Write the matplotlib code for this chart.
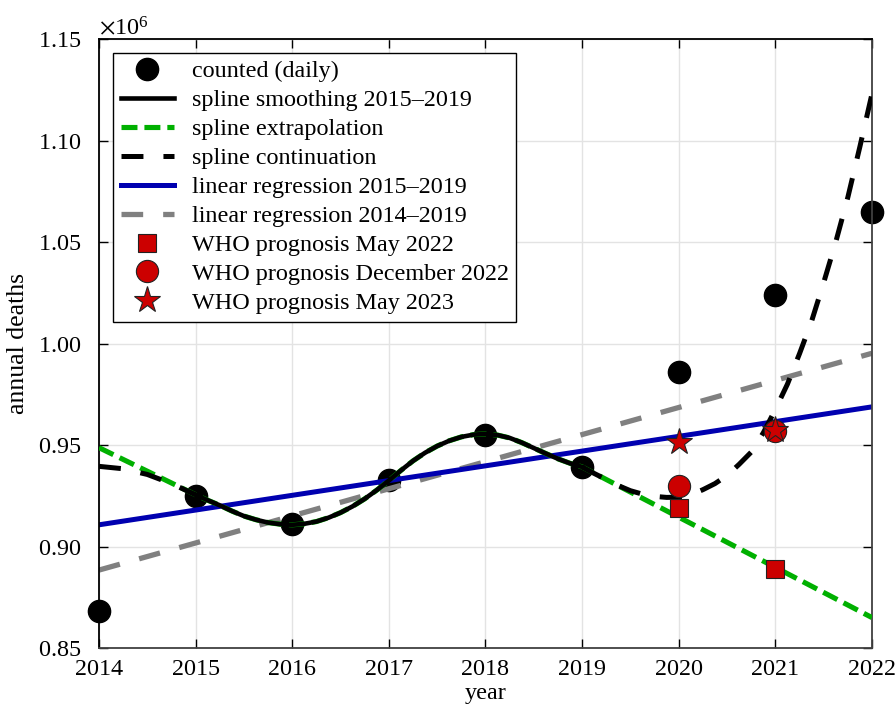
#!/usr/bin/env python3
"""
Annual deaths: counted values, spline fits, linear regressions and WHO prognoses.
"""

import matplotlib
matplotlib.use('Agg')
import matplotlib.pyplot as plt
from matplotlib.ticker import ScalarFormatter

# counted annual deaths
years = [2014, 2015, 2016, 2017, 2018, 2019, 2020, 2021, 2022]
counted = [868000, 925000, 911000, 933000, 955000, 939000, 986000, 1024000, 1065000]

# smoothing spline 2015-2019
spline_x = [2015.0, 2015.125, 2015.25, 2015.375, 2015.5, 2015.625, 2015.75, 2015.875,
            2016.0, 2016.125, 2016.25, 2016.375, 2016.5, 2016.625, 2016.75, 2016.875,
            2017.0, 2017.125, 2017.25, 2017.375, 2017.5, 2017.625, 2017.75, 2017.875,
            2018.0, 2018.125, 2018.25, 2018.375, 2018.5, 2018.625, 2018.75, 2018.875,
            2019.0]
spline_y = [925500, 922800, 920300, 917500, 915000, 913200, 911800, 911000,
            910700, 911200, 912300, 914200, 916700, 919800, 923500, 927800,
            932500, 937500, 942200, 946200, 949500, 952100, 954000, 955100,
            955500, 954900, 953500, 951200, 948500, 945800, 943200, 941000,
            939200]

# linear extrapolation of the spline beyond its ends
extrap_left = (2014, 948700)
extrap_right = (2022, 865000)

# spline continuation (before 2015 and after 2019)
cont_left_x = [2014.0, 2014.25, 2014.5, 2014.75, 2015.0]
cont_left_y = [939500, 938300, 935500, 931000, 925500]
cont_right_x = [2019.0, 2019.125, 2019.25, 2019.375, 2019.5, 2019.625, 2019.75, 2019.875,
                2020.0, 2020.125, 2020.25, 2020.375, 2020.5, 2020.625, 2020.75,
                2020.875, 2021.0, 2021.125, 2021.25, 2021.375, 2021.5, 2021.625, 2021.75,
                2021.875, 2022.0]
cont_right_y = [939200, 936000, 933000, 930000, 927500, 925800, 924700, 924200,
                924300, 925500, 928000, 931000, 935000, 940500, 946500,
                956000, 967500, 980000, 995000, 1011000, 1030000, 1050000, 1072000,
                1097000, 1123000]

# regression lines (end points)
linreg_x = [2014, 2022]
linreg_1519 = [910700, 968800]
linreg_1419 = [888400, 995200]

# WHO prognoses
who_years = [2020, 2021]
who_may22 = [919000, 889000]
who_dec22 = [930000, 957000]
who_may23 = [951500, 957500]

plt.rcParams['font.family'] = 'serif'
plt.rcParams['font.serif'] = ['Liberation Serif', 'DejaVu Serif']
plt.rcParams['mathtext.fontset'] = 'stix'
plt.rcParams['font.size'] = 17.4
plt.rcParams['lines.scale_dashes'] = False

fig = plt.figure(figsize=(8.96, 7.08), dpi=100)
ax = fig.add_axes([0.1105, 0.0847, 0.8627, 0.8602])

red = '#cc0000'
edge = '#222222'

ax.plot(years, counted, 'o', color='black', markersize=16, zorder=1.5,
        clip_on=False, label='counted (daily)')

ax.plot(spline_x, spline_y, color='black', lw=3.3, zorder=3.3,
        label='spline smoothing 2015–2019')

ext_x = [extrap_left[0]] + spline_x + [extrap_right[0]]
ext_y = [extrap_left[1]] + spline_y + [extrap_right[1]]
ax.plot(ext_x, ext_y, color='#00b000', lw=3.7, dashes=(11.5, 5.0), zorder=3.0,
        label='spline extrapolation')

ax.plot(cont_left_x + [float('nan')] + cont_right_x,
        cont_left_y + [float('nan')] + cont_right_y,
        color='black', lw=3.6, dashes=(15.8, 14.4), zorder=3.1,
        label='spline continuation')

ax.plot(linreg_x, linreg_1519, color='#0000b0', lw=3.6, zorder=2.2,
        label='linear regression 2015–2019')
ax.plot(linreg_x, linreg_1419, color='#808080', lw=3.8, dashes=(15.6, 14.4), zorder=2.1,
        label='linear regression 2014–2019')

ax.plot(who_years, who_may22, 's', color=red, markeredgecolor=edge, markeredgewidth=0.8,
        markersize=13, zorder=4, label='WHO prognosis May 2022')
ax.plot(who_years, who_dec22, 'o', color=red, markeredgecolor=edge, markeredgewidth=0.8,
        markersize=16, zorder=4, label='WHO prognosis December 2022')
ax.plot(who_years, who_may23, '*', color=red, markeredgecolor=edge, markeredgewidth=0.8,
        markersize=19.5, zorder=4.1, label='WHO prognosis May 2023')

ax.set_xlim(2014, 2022)
ax.set_ylim(850000, 1150000)
ax.set_xticks(range(2014, 2023))
ax.set_yticks([850000 + 50000 * i for i in range(7)])
fmt = ScalarFormatter(useMathText=True)
fmt.set_powerlimits((-3, 5))
ax.yaxis.set_major_formatter(fmt)

ax.set_xlabel('year', labelpad=2)
ax.set_ylabel('annual deaths', labelpad=6, fontsize=18.5)

ax.grid(True, color='#e3e3e3', lw=1.0, zorder=0)
ax.set_axisbelow(True)
ax.tick_params(direction='in', length=6.5, width=1.0, top=True, right=True,
               colors='black', pad=8)
ax.tick_params(axis='y', pad=13)
for side in ['left', 'top']:
    ax.spines[side].set_color('black')
for side in ['bottom', 'right']:
    ax.spines[side].set_color('#404040')
for s in ax.spines.values():
    s.set_linewidth(1.3)

leg = ax.legend(loc='upper left', fancybox=False, framealpha=1, edgecolor='black',
                borderaxespad=0.57, borderpad=0.32, labelspacing=0.29,
                handlelength=2.2, handletextpad=0.74, fontsize=17.4)
leg.get_frame().set_linewidth(1.0)

fig.savefig('out.png', dpi=100)
